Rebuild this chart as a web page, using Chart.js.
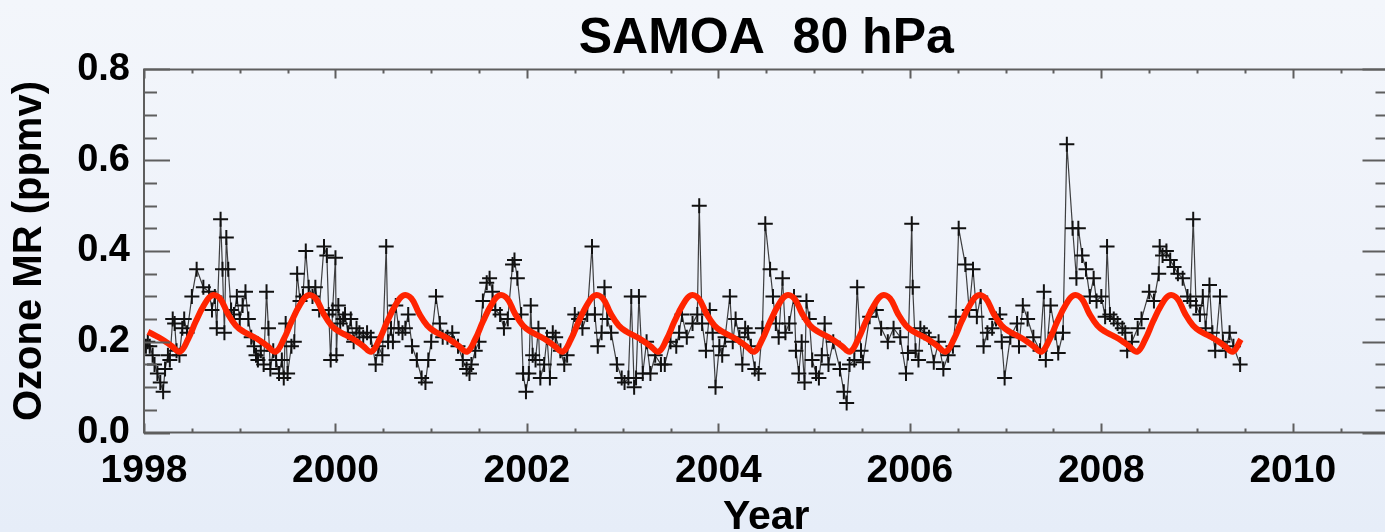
<!DOCTYPE html>
<html>
<head>
<meta charset="utf-8">
<title>SAMOA 80 hPa</title>
<script src="https://cdn.jsdelivr.net/npm/chart.js@4.4.1/dist/chart.umd.min.js"></script>
<style>
  html, body {
    margin: 0;
    padding: 0;
    width: 1385px;
    height: 532px;
    overflow: hidden;
    background: linear-gradient(to bottom, #f3f6fb 0%, #eef2fa 50%, #e6edf8 100%);
  }
  #wrap { width: 1398px; height: 532px; }
</style>
</head>
<body>
<div id="wrap"><canvas id="ozoneChart" width="1398" height="532"></canvas></div>
<script>
// Ozonesonde profiles at 80 hPa, American Samoa (decimal year, ppmv)
const sondeYear = [
  1998.02, 1998.04, 1998.06, 1998.09, 1998.11, 1998.14, 1998.17, 1998.20, 1998.22, 1998.25,
  1998.27, 1998.30, 1998.32, 1998.34, 1998.37, 1998.40, 1998.42, 1998.45, 1998.50, 1998.55,
  1998.62, 1998.68, 1998.71, 1998.74, 1998.76, 1998.80, 1998.82, 1998.84, 1998.86, 1998.88,
  1998.91, 1998.94, 1998.97,
  1999.00, 1999.03, 1999.06, 1999.09, 1999.12, 1999.15, 1999.17, 1999.19, 1999.22, 1999.25,
  1999.28, 1999.30, 1999.32, 1999.35, 1999.38, 1999.41, 1999.44, 1999.46, 1999.48, 1999.50,
  1999.54, 1999.57, 1999.60, 1999.63, 1999.66, 1999.69, 1999.72, 1999.76, 1999.79, 1999.83,
  1999.88, 1999.91, 1999.93, 1999.95, 1999.97,
  2000.00, 2000.01, 2000.03, 2000.05, 2000.08, 2000.10, 2000.13, 2000.16, 2000.19, 2000.22,
  2000.25, 2000.29, 2000.33, 2000.37, 2000.42, 2000.45, 2000.49, 2000.53, 2000.55, 2000.58,
  2000.60, 2000.63, 2000.66, 2000.70, 2000.73, 2000.76, 2000.80, 2000.85, 2000.90, 2000.94,
  2000.97,
  2001.00, 2001.05, 2001.09, 2001.12, 2001.17, 2001.22, 2001.28, 2001.33, 2001.37, 2001.40,
  2001.42, 2001.46, 2001.50, 2001.54, 2001.58, 2001.61, 2001.64, 2001.67, 2001.72, 2001.76,
  2001.80, 2001.85, 2001.87, 2001.90, 2001.94, 2001.96, 2001.99,
  2002.02, 2002.04, 2002.06, 2002.09, 2002.12, 2002.14, 2002.18, 2002.21, 2002.24, 2002.27,
  2002.30, 2002.35, 2002.39, 2002.42, 2002.50, 2002.54, 2002.58, 2002.63, 2002.68, 2002.71,
  2002.74, 2002.78, 2002.81, 2002.84, 2002.88, 2002.94, 2002.99,
  2003.02, 2003.06, 2003.09, 2003.12, 2003.14, 2003.17, 2003.21, 2003.25, 2003.29, 2003.34,
  2003.40, 2003.44, 2003.50, 2003.56, 2003.59, 2003.62, 2003.67, 2003.73, 2003.78, 2003.80,
  2003.83, 2003.87, 2003.91, 2003.94, 2003.97,
  2004.01, 2004.04, 2004.07, 2004.12, 2004.15, 2004.18, 2004.22, 2004.25, 2004.28, 2004.31,
  2004.34, 2004.38, 2004.42, 2004.46, 2004.49, 2004.54, 2004.57, 2004.60, 2004.63, 2004.67,
  2004.70, 2004.74, 2004.79, 2004.81, 2004.84, 2004.87, 2004.90, 2004.92, 2004.95, 2004.98,
  2005.02, 2005.05, 2005.08, 2005.11, 2005.15, 2005.20, 2005.27, 2005.31, 2005.34, 2005.37,
  2005.42, 2005.45, 2005.49, 2005.51, 2005.58, 2005.65, 2005.70, 2005.77, 2005.83, 2005.90,
  2005.96, 2005.98,
  2006.02, 2006.03, 2006.06, 2006.09, 2006.11, 2006.15, 2006.20, 2006.25, 2006.30, 2006.35,
  2006.40, 2006.45, 2006.48, 2006.51, 2006.58, 2006.62, 2006.66, 2006.70, 2006.74, 2006.77,
  2006.81, 2006.86, 2006.90, 2006.94, 2006.96, 2006.99,
  2007.05, 2007.12, 2007.14, 2007.18, 2007.23, 2007.29, 2007.36, 2007.40, 2007.42, 2007.47,
  2007.52, 2007.55, 2007.60, 2007.64, 2007.70, 2007.74, 2007.76, 2007.80, 2007.84, 2007.88,
  2007.92, 2007.95,
  2008.00, 2008.04, 2008.06, 2008.09, 2008.13, 2008.17, 2008.22, 2008.25, 2008.27, 2008.32,
  2008.38, 2008.42, 2008.50, 2008.55, 2008.60, 2008.61, 2008.64, 2008.68, 2008.72, 2008.76,
  2008.80, 2008.85, 2008.90, 2008.93, 2008.96, 2008.99,
  2009.03, 2009.06, 2009.09, 2009.13, 2009.16, 2009.19, 2009.24, 2009.27, 2009.30, 2009.34,
  2009.38, 2009.45
];

const sondeO3 = [
  0.19, 0.20, 0.19, 0.17, 0.15, 0.13, 0.11, 0.09, 0.14, 0.17,
  0.16, 0.25, 0.24, 0.18, 0.17, 0.23, 0.25, 0.22, 0.30, 0.36,
  0.32, 0.31, 0.27, 0.30, 0.23, 0.47, 0.36, 0.22, 0.43, 0.36,
  0.27, 0.26, 0.30,
  0.25, 0.28, 0.31, 0.25, 0.21, 0.19, 0.17, 0.16, 0.18, 0.15,
  0.31, 0.23, 0.14, 0.18, 0.16, 0.13, 0.16, 0.12, 0.24, 0.13,
  0.19, 0.20, 0.35, 0.29, 0.30, 0.40, 0.32, 0.30, 0.32, 0.27,
  0.41, 0.39, 0.26, 0.16, 0.27,
  0.385, 0.17, 0.28, 0.24, 0.25, 0.26, 0.22, 0.25, 0.20, 0.23,
  0.22, 0.21, 0.22, 0.21, 0.15, 0.19, 0.17, 0.41, 0.20, 0.23,
  0.20, 0.28, 0.23, 0.22, 0.23, 0.26, 0.19, 0.16, 0.12, 0.11,
  0.16,
  0.20, 0.30, 0.24, 0.21, 0.21, 0.22, 0.19, 0.16, 0.14, 0.13,
  0.15, 0.18, 0.20, 0.29, 0.33, 0.34, 0.31, 0.27, 0.26, 0.23,
  0.25, 0.37, 0.38, 0.34, 0.26, 0.13, 0.09,
  0.13, 0.28, 0.17, 0.16, 0.23, 0.12, 0.15, 0.21, 0.12, 0.22,
  0.21, 0.18, 0.15, 0.17, 0.26, 0.25, 0.23, 0.26, 0.41, 0.26,
  0.19, 0.22, 0.32, 0.25, 0.22, 0.15, 0.12,
  0.11, 0.12, 0.30, 0.10, 0.12, 0.30, 0.13, 0.20, 0.13, 0.17,
  0.15, 0.15, 0.20, 0.19, 0.22, 0.26, 0.21, 0.24, 0.26, 0.50,
  0.24, 0.18, 0.27, 0.22, 0.10,
  0.19, 0.17, 0.21, 0.30, 0.20, 0.25, 0.21, 0.15, 0.23, 0.22,
  0.19, 0.14, 0.13, 0.23, 0.46, 0.36, 0.30, 0.24, 0.21, 0.34,
  0.22, 0.24, 0.30, 0.18, 0.13, 0.20, 0.11, 0.29, 0.25, 0.16,
  0.13, 0.12, 0.17, 0.24, 0.15, 0.20, 0.14, 0.09, 0.065, 0.15,
  0.16, 0.32, 0.18, 0.155, 0.255, 0.27, 0.23, 0.20, 0.23, 0.21,
  0.13, 0.175,
  0.46, 0.32, 0.18, 0.16, 0.23, 0.22, 0.21, 0.155, 0.20, 0.14,
  0.17, 0.19, 0.255, 0.45, 0.37, 0.27, 0.36, 0.255, 0.30, 0.19,
  0.22, 0.23, 0.25, 0.26, 0.20, 0.12,
  0.21, 0.24, 0.19, 0.28, 0.25, 0.21, 0.18, 0.31, 0.16, 0.28,
  0.22, 0.175, 0.22, 0.635, 0.45, 0.34, 0.45, 0.39, 0.36, 0.30,
  0.34, 0.29,
  0.30, 0.255, 0.41, 0.26, 0.25, 0.24, 0.23, 0.22, 0.18, 0.20,
  0.23, 0.25, 0.31, 0.29, 0.35, 0.41, 0.39, 0.40, 0.38, 0.365,
  0.35, 0.34, 0.30, 0.29, 0.47, 0.28,
  0.26, 0.30, 0.23, 0.325, 0.22, 0.18, 0.30, 0.20, 0.18, 0.22,
  0.19, 0.15
];

// Mean seasonal cycle, Jan..Dec (ppmv), repeated over the record
const climO3 = [0.222, 0.213, 0.203, 0.190, 0.178, 0.205, 0.245, 0.280, 0.302, 0.296, 0.262, 0.236];
const climYears = [1998, 1999, 2000, 2001, 2002, 2003, 2004, 2005, 2006, 2007, 2008, 2009];
const climEnd = 2009.5;

// Axis ranges and tick spacing
const xRange = [1998, 2011];
const yRange = [0, 0.8];
const xLabelStep = 2, xMinorStep = 0.5;
const yLabelStep = 0.2, yMinorStep = 0.05;

const titleText = 'SAMOA  80 hPa';

const sondePoints = sondeYear.map((t, i) => ({ x: t, y: sondeO3[i] }));
const climPoints = [];
climYears.forEach(yr => {
  climO3.forEach((v, m) => {
    const t = yr + (m + 0.5) / 12;
    if (t <= climEnd) climPoints.push({ x: t, y: v });
  });
});

const AXIS_COLOR = '#5e5e5e';
const FONT = '"Liberation Sans", Arial, Helvetica, sans-serif';

// IDL-style frame: box with inward ticks on all four sides, title centred over the plot
const frameTicks = {
  id: 'frameTicks',
  afterDatasetsDraw(chart) {
    const { ctx, chartArea: a, scales: { x, y } } = chart;
    ctx.save();
    ctx.strokeStyle = AXIS_COLOR;
    ctx.lineWidth = 2;
    ctx.strokeRect(a.left, a.top, a.right - a.left, a.bottom - a.top);

    // x ticks, bottom and top
    for (let t = xRange[0]; t <= xRange[1] + 1e-6; t += xMinorStep) {
      const px = Math.round(x.getPixelForValue(t)) + 0.5;
      const major = Math.abs((t - xRange[0]) % xLabelStep) < 1e-6;
      const len = major ? 9 : 4;
      ctx.beginPath();
      ctx.moveTo(px, a.bottom); ctx.lineTo(px, a.bottom - len);
      ctx.moveTo(px, a.top); ctx.lineTo(px, a.top + len);
      ctx.stroke();
    }
    // y ticks, left and right
    for (let v = yRange[0]; v <= yRange[1] + 1e-6; v += yMinorStep) {
      const py = Math.round(y.getPixelForValue(v)) + 0.5;
      const k = Math.round(v / yMinorStep);
      const major = k % Math.round(yLabelStep / yMinorStep) === 0;
      const len = major ? 26 : 13;
      ctx.beginPath();
      ctx.moveTo(a.left, py); ctx.lineTo(a.left + len, py);
      ctx.moveTo(a.right, py); ctx.lineTo(a.right - len, py);
      ctx.stroke();
    }

    ctx.fillStyle = '#000';
    ctx.font = 'bold 50px ' + FONT;
    ctx.textAlign = 'center';
    ctx.textBaseline = 'middle';
    ctx.fillText(titleText, (a.left + a.right) / 2, 39);
    ctx.restore();
  }
};

const ctx = document.getElementById('ozoneChart').getContext('2d');
new Chart(ctx, {
  type: 'line',
  data: {
    datasets: [
      {
        label: 'Climatology',
        data: climPoints,
        borderColor: '#ff2400',
        borderWidth: 6,
        pointRadius: 0,
        tension: 0.4,
        fill: false,
        order: 0
      },
      {
        label: 'Ozonesonde',
        data: sondePoints,
        borderColor: 'rgba(30, 30, 30, 0.85)',
        borderWidth: 1.2,
        pointStyle: 'cross',
        pointRadius: 7.5,
        pointBorderWidth: 2,
        pointBorderColor: '#111',
        tension: 0,
        fill: false,
        order: 1
      }
    ]
  },
  options: {
    responsive: false,
    animation: false,
    events: [],
    layout: { padding: { left: 0, right: 2, top: 69.5, bottom: 0 } },
    plugins: {
      legend: { display: false },
      tooltip: { enabled: false },
      title: { display: false }
    },
    scales: {
      x: {
        type: 'linear',
        min: xRange[0],
        max: xRange[1],
        grid: { display: false, drawTicks: false },
        border: { display: false },
        afterFit(scale) { scale.height = 99.5; },
        afterBuildTicks(scale) {
          const ticks = [];
          for (let t = xRange[0]; t <= xRange[1] - 1; t += xLabelStep) ticks.push({ value: t });
          scale.ticks = ticks;
        },
        ticks: {
          color: '#000',
          padding: 15,
          maxRotation: 0,
          font: { family: FONT, size: 39, weight: 'bold' },
          callback: v => String(v)
        },
        title: {
          display: true,
          text: 'Year',
          color: '#000',
          font: { family: FONT, size: 41, weight: 'bold', lineHeight: 0.8 },
          padding: { top: 0, bottom: -2 }
        }
      },
      y: {
        type: 'linear',
        min: yRange[0],
        max: yRange[1],
        grid: { display: false, drawTicks: false },
        border: { display: false },
        afterFit(scale) { scale.width = 144; },
        ticks: {
          stepSize: yLabelStep,
          color: '#000',
          padding: 14,
          font: { family: FONT, size: 38, weight: 'bold' },
          callback: v => v.toFixed(1)
        },
        title: {
          display: true,
          text: 'Ozone MR (ppmv)',
          color: '#000',
          font: { family: FONT, size: 40, weight: 'bold', lineHeight: 1.2 },
          padding: { top: 6, bottom: 0 }
        }
      }
    }
  },
  plugins: [frameTicks]
});
</script>
</body>
</html>
